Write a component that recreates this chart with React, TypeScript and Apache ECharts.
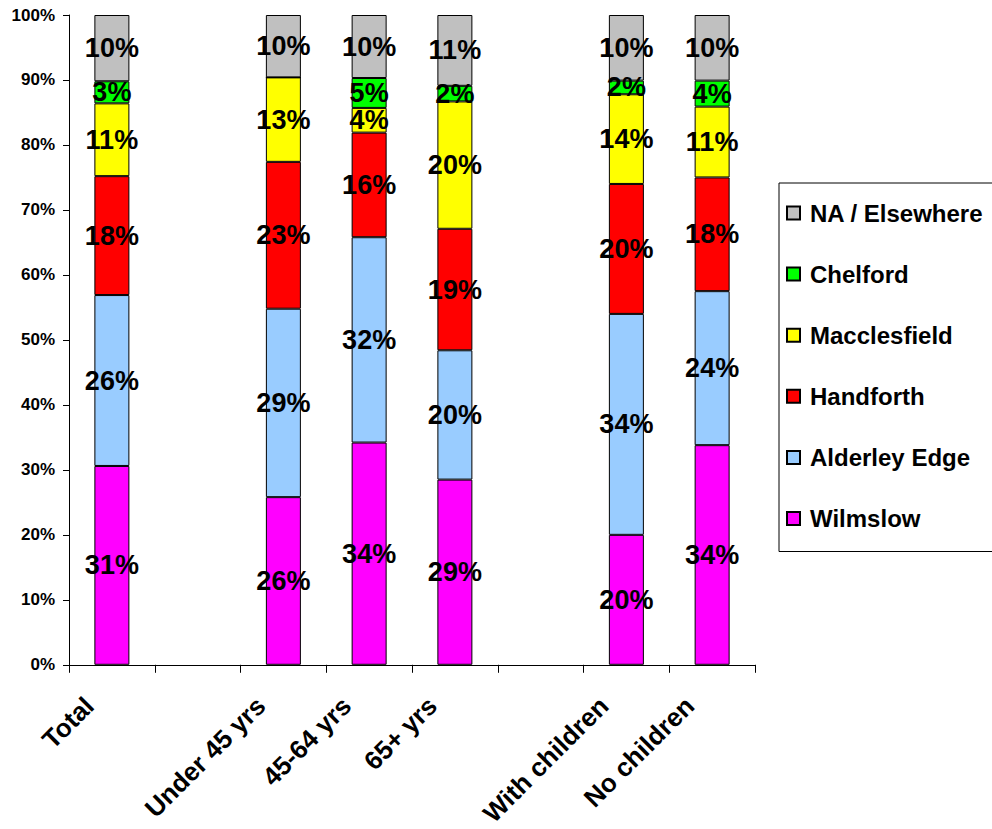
import React, { useEffect, useRef } from "react";
import * as echarts from "echarts";

const categories = ["Total", "", "Under 45 yrs", "45-64 yrs", "65+ yrs", " ", "With children", "No children"];
const wilmslow = [30.6, null, 25.8, 34.2, 28.5, null, 20.0, 33.8];
const alderleyEdge = [26.3, null, 29.0, 31.6, 19.9, null, 34.0, 23.7];
const handforth = [18.3, null, 22.6, 16.1, 18.7, null, 20.0, 17.5];
const macclesfield = [11.2, null, 13.0, 3.8, 19.6, null, 13.8, 10.9];
const chelford = [3.4, null, 0, 4.6, 2.4, null, 2.1, 4.0];
const naElsewhere = [10.2, null, 9.6, 9.7, 10.9, null, 10.1, 10.1];

const seriesDefs = [
  { name: "Wilmslow", data: wilmslow, color: "#FF00FF" },
  { name: "Alderley Edge", data: alderleyEdge, color: "#99CCFF" },
  { name: "Handforth", data: handforth, color: "#FF0000" },
  { name: "Macclesfield", data: macclesfield, color: "#FFFF00" },
  { name: "Chelford", data: chelford, color: "#00FF00" },
  { name: "NA / Elsewhere", data: naElsewhere, color: "#C0C0C0" },
];

const FONT = "'Liberation Sans', Arial, sans-serif";

export default function App() {
  const ref = useRef<HTMLDivElement>(null);
  useEffect(() => {
    if (!ref.current) return;
    const chart = echarts.init(ref.current, null, { renderer: "svg" });
    chart.setOption({
      animation: false,
      backgroundColor: "#fff",
      textStyle: { fontFamily: FONT },
      grid: { left: 69, right: 237, top: 15, bottom: 164, containLabel: false },
      legend: {
        orient: "vertical",
        left: 779,
        top: 183,
        data: seriesDefs.map((s) => s.name).reverse(),
        icon: "rect",
        itemWidth: 13,
        itemHeight: 13,
        itemGap: 37.1,
        padding: [18, 20, 21, 7],
        borderColor: "#000",
        borderWidth: 1,
        selectedMode: false,
        textStyle: {
          fontFamily: FONT,
          fontSize: 24,
          fontWeight: "bold",
          color: "#000",
          lineHeight: 24,
          padding: [0, 0, 0, 5],
        },
      },
      xAxis: {
        type: "category",
        data: categories,
        axisLine: { lineStyle: { color: "#000", width: 1 } },
        axisTick: { show: true, length: 8, lineStyle: { color: "#000" } },
        axisLabel: {
          interval: 0,
          rotate: 45,
          margin: 14,
          padding: [0, 32, 0, 0],
          fontFamily: FONT,
          fontSize: 26,
          fontWeight: "bold",
          color: "#000",
        },
      },
      yAxis: {
        type: "value",
        min: 0,
        max: 100,
        interval: 10,
        splitLine: { show: false },
        axisLine: { show: true, lineStyle: { color: "#000", width: 1 } },
        axisTick: { show: true, length: 6, lineStyle: { color: "#000" } },
        axisLabel: {
          formatter: "{value}%",
          margin: 14,
          fontFamily: FONT,
          fontSize: 17,
          fontWeight: "bold",
          color: "#000",
        },
      },
      series: seriesDefs.map((s) => ({
        name: s.name,
        type: "bar",
        stack: "total",
        barWidth: 35,
        data: s.data,
        itemStyle: { color: s.color, borderColor: "#000", borderWidth: 1 },
        label: {
          show: true,
          position: "inside",
          fontFamily: FONT,
          fontSize: 27,
          fontWeight: "bold",
          color: "#000",
          textBorderWidth: 0,
          formatter: (p: any) => (p.value > 0 ? Math.round(p.value) + "%" : ""),
        },
        labelLayout: { hideOverlap: false },
      })),
    });
    return () => chart.dispose();
  }, []);
  return <div ref={ref} style={{ width: 992, height: 829, position: "absolute", left: 0, top: 0 }} />;
}
